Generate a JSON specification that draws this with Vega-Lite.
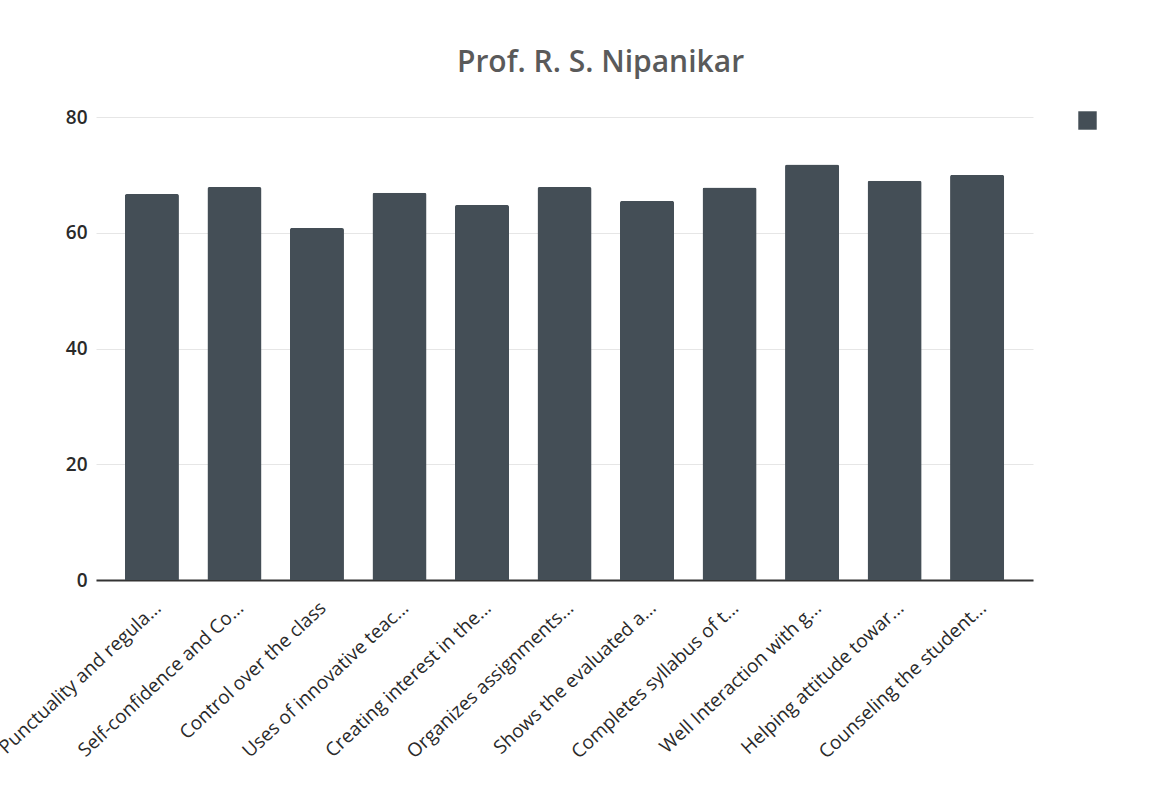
{
  "$schema": "https://vega.github.io/schema/vega-lite/v6.json",
  "width": 937,
  "height": 463,
  "autosize": {"type": "none"},
  "padding": {"left": 96, "top": 117, "right": 129, "bottom": 215},
  "background": "white",
  "view": {"stroke": null},
  "title": {
    "text": "Prof. R. S. Nipanikar",
    "font": "Open Sans",
    "fontSize": 30,
    "fontWeight": 600,
    "color": "#5a5a5a",
    "anchor": "middle",
    "dx": 36,
    "offset": 30
  },
  "data": {
    "values": [
      {"criterion": "Punctuality and regula...", "score": 66.7, "series": "s"},
      {"criterion": "Self-confidence and Co...", "score": 67.9, "series": "s"},
      {"criterion": "Control over the class", "score": 60.8, "series": "s"},
      {"criterion": "Uses of innovative teac...", "score": 66.9, "series": "s"},
      {"criterion": "Creating interest in the...", "score": 64.8, "series": "s"},
      {"criterion": "Organizes assignments...", "score": 67.9, "series": "s"},
      {"criterion": "Shows the evaluated a...", "score": 65.5, "series": "s"},
      {"criterion": "Completes syllabus of t...", "score": 67.8, "series": "s"},
      {"criterion": "Well Interaction with g...", "score": 71.8, "series": "s"},
      {"criterion": "Helping attitude towar...", "score": 69.0, "series": "s"},
      {"criterion": "Counseling the student...", "score": 70.0, "series": "s"}
    ]
  },
  "mark": {"type": "bar", "cornerRadiusEnd": 2},
  "encoding": {
    "x": {
      "field": "criterion",
      "type": "nominal",
      "sort": null,
      "title": null,
      "scale": {"paddingInner": 0.345, "paddingOuter": 0.35},
      "axis": {
        "labelAngle": -43,
        "labelFont": "Open Sans",
        "labelFontSize": 19,
        "labelColor": "#2a2a2a",
        "labelPadding": 18,
        "labelLimit": 400,
        "ticks": false,
        "domainColor": "#333333",
        "domainWidth": 2,
        "grid": false
      }
    },
    "y": {
      "field": "score",
      "type": "quantitative",
      "title": null,
      "scale": {"domain": [0, 80]},
      "axis": {
        "values": [0, 20, 40, 60, 80],
        "labelFont": "Open Sans",
        "labelFontSize": 19,
        "labelFontWeight": 600,
        "labelColor": "#2a2a2a",
        "labelPadding": 9,
        "ticks": false,
        "domain": false,
        "grid": true,
        "gridColor": "#e6e6e6",
        "gridWidth": 1
      }
    },
    "color": {
      "field": "series",
      "type": "nominal",
      "scale": {"range": ["#444e56"]},
      "legend": {
        "title": null,
        "orient": "none",
        "legendX": 982,
        "legendY": -6,
        "symbolType": "square",
        "symbolSize": 340,
        "symbolStrokeWidth": 0,
        "labelExpr": "''",
        "labelFontSize": 1
      }
    }
  }
}
